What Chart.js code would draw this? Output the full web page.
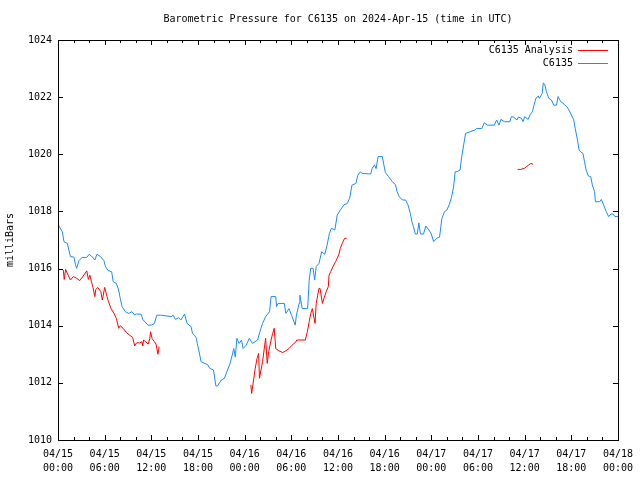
<!DOCTYPE html>
<html>
<head>
<meta charset="utf-8">
<script src="https://cdn.jsdelivr.net/npm/chart.js@4.4.1/dist/chart.umd.min.js"></script>
<style>
  body { margin: 0; background: #fff; }
</style>
</head>
<body>
<canvas id="chart" width="640" height="480"></canvas>
<script>
// hours since 2024-04-15 00:00 UTC
const hoursStation = [
  0.0, 0.55, 0.77, 1.2, 1.4, 1.6, 2.05, 2.26, 2.4, 2.7, 3.1, 3.7, 4.0, 4.3, 4.74, 5.0, 5.46, 5.9,
  6.1, 6.45, 6.9, 7.1, 7.5, 7.8, 8.0, 8.24, 8.67, 9.1, 9.5, 9.86, 10.1, 10.7, 10.9, 11.57, 12.0,
  12.4, 12.7, 13.2, 14.6, 14.8, 15.1, 15.5, 15.8, 16.27, 16.6, 17.1, 17.3, 17.55, 17.8, 17.9,
  18.1, 18.4, 19.26, 19.5, 20.0, 20.3, 20.5, 21.0, 21.4, 21.8, 22.1, 22.4, 22.6, 22.8, 23.0,
  23.3, 23.6, 23.8, 24.2, 24.6, 25.0, 25.66, 25.96, 26.3, 26.7, 27.2, 27.4, 28.0, 28.1, 28.3,
  29.1, 29.3, 29.7, 30.1, 30.5, 30.66, 31.0, 31.1, 31.4, 32.1, 32.3, 32.5, 32.8, 33.0, 33.2,
  33.56, 33.9, 34.3, 34.6, 34.9, 35.15, 35.6, 35.9, 36.3, 36.77, 37.2, 37.5, 37.8, 38.3, 38.56,
  38.9, 39.1, 40.2, 40.4, 40.7, 40.9, 41.16, 41.7, 41.9, 42.1, 42.5, 43.0, 43.4, 43.6, 43.9,
  44.3, 44.7, 45.0, 45.3, 45.5, 45.7, 45.95, 46.2, 46.4, 46.6, 47.0, 47.3, 47.7, 48.0, 48.3,
  48.7, 49.06, 49.36, 49.7, 50.0, 50.3, 50.6, 50.86, 51.07, 51.3, 51.7, 51.9, 52.27, 52.4, 53.0,
  53.6, 53.8, 54.5, 54.8, 55.25, 56.1, 56.4, 56.7, 56.96, 57.4, 58.1, 58.3, 58.6, 59.0, 59.2,
  59.6, 59.8, 60.0, 60.45, 60.7, 61.0, 61.2, 61.45, 61.75, 61.9, 62.26, 62.4, 62.6, 62.8, 63.1,
  63.45, 63.75, 64.1, 64.3, 64.65, 64.9, 65.16, 65.4, 65.7, 66.0, 66.3, 66.5, 66.8, 67.0, 67.2,
  67.5, 67.7, 67.9, 68.2, 68.5, 68.7, 69.0, 69.1, 69.65, 69.86, 70.16, 70.5, 70.8, 71.1, 71.4,
  71.6, 72.0
]
const pressureStation = [
  1017.55, 1017.29, 1016.94, 1016.88, 1016.65, 1016.42, 1016.40, 1016.13, 1016.01, 1016.28,
  1016.39, 1016.39, 1016.50, 1016.44, 1016.30, 1016.50, 1016.42, 1016.28, 1016.07, 1015.93,
  1015.89, 1015.54, 1015.48, 1015.25, 1014.96, 1014.67, 1014.49, 1014.43, 1014.49, 1014.38,
  1014.41, 1014.40, 1014.22, 1014.02, 1014.02, 1014.08, 1014.37, 1014.37, 1014.32, 1014.37,
  1014.22, 1014.28, 1014.20, 1014.41, 1014.08, 1013.97, 1013.73, 1013.67, 1013.56, 1013.38,
  1013.15, 1012.74, 1012.63, 1012.51, 1012.45, 1011.89, 1011.89, 1012.10, 1012.16, 1012.45,
  1012.66, 1012.97, 1013.20, 1012.90, 1013.56, 1013.38, 1013.50, 1013.20, 1013.32, 1013.56,
  1013.38, 1013.50, 1013.79, 1014.08, 1014.32, 1014.49, 1015.02, 1015.02, 1014.67, 1014.78,
  1014.78, 1014.43, 1014.60, 1014.32, 1014.02, 1014.37, 1014.78, 1015.07, 1014.60, 1014.60,
  1015.60, 1016.01, 1016.01, 1015.60, 1016.07, 1016.18, 1016.59, 1016.50, 1016.82, 1017.23,
  1017.41, 1017.35, 1017.87, 1018.05, 1018.23, 1018.28, 1018.46, 1018.92, 1018.98, 1019.27,
  1019.39, 1019.33, 1019.31, 1019.51, 1019.63, 1019.50, 1019.92, 1019.92, 1019.63, 1019.36,
  1019.22, 1019.04, 1018.93, 1018.69, 1018.51, 1018.40, 1018.40, 1018.23, 1017.93, 1017.64,
  1017.47, 1017.21, 1017.21, 1017.60, 1017.21, 1017.21, 1017.49, 1017.35, 1017.21, 1016.94,
  1017.06, 1017.10, 1017.75, 1018.00, 1018.05, 1018.23, 1018.50, 1018.85, 1019.39, 1019.39,
  1019.45, 1019.90, 1020.50, 1020.73, 1020.79, 1020.85, 1020.90, 1020.90, 1021.10, 1021.02,
  1021.02, 1021.20, 1021.02, 1021.22, 1021.14, 1021.14, 1021.32, 1021.30, 1021.20, 1021.30,
  1021.26, 1021.14, 1021.32, 1021.22, 1021.38, 1021.49, 1021.72, 1021.96, 1022.04, 1021.96,
  1022.13, 1022.50, 1022.43, 1022.19, 1021.96, 1021.90, 1021.72, 1021.72, 1022.02, 1021.84,
  1021.80, 1021.72, 1021.68, 1021.55, 1021.38, 1021.22, 1020.91, 1020.50, 1020.15, 1020.09,
  1020.03, 1019.74, 1019.45, 1019.24, 1019.22, 1018.93, 1018.69, 1018.34, 1018.34, 1018.42,
  1018.23, 1017.99, 1017.82, 1017.91, 1017.91, 1017.82, 1017.82
]
// analysis has gaps (null)
const hoursAnalysis = [
  0.68, 0.8, 0.98, 1.3, 1.6, 1.97, 2.4, 2.8, 3.24, 3.7, 3.9, 4.1, 4.3, 4.5, 4.74, 4.85, 5.1,
  5.5, 5.7, 6.0, 6.3, 6.5, 6.8, 7.2, 7.5, 7.8, 8.0, 8.37, 8.8, 9.2, 9.6, 9.86, 10.1, 10.5, 10.8,
  10.9, 11.0, 11.6, 11.8, 11.9, 12.1, 12.4, 12.6, 12.85, 13.0,
  18.0,
  24.8, 24.9, 25.15, 25.36, 25.6, 25.8, 25.9, 26.1, 26.3, 26.5, 26.7, 26.9, 27.1, 27.4, 27.6,
  27.8, 28.0, 28.4, 28.9, 29.3, 29.7, 30.1, 30.6, 30.7, 31.8, 32.06, 32.3, 32.5, 32.7, 33.05,
  33.2, 33.56, 33.7, 34.0, 34.2, 34.5, 34.76, 34.85, 35.06, 35.36, 35.7, 35.9, 36.1, 36.3,
  36.55, 36.85, 37.1,
  48.0,
  59.1, 59.5, 59.96, 60.25, 60.5, 60.8, 61.1
]
const pressureAnalysis = [
  1015.95, 1015.62, 1015.97, 1015.77, 1015.60, 1015.72, 1015.66, 1015.58, 1015.74, 1015.92,
  1015.62, 1015.77, 1015.54, 1015.34, 1015.02, 1015.26, 1015.34, 1015.20, 1014.90, 1015.34,
  1015.02, 1014.84, 1014.61, 1014.43, 1014.26, 1013.91, 1014.00, 1013.91, 1013.76, 1013.67,
  1013.59, 1013.29, 1013.40, 1013.40, 1013.44, 1013.29, 1013.50, 1013.36, 1013.55, 1013.79,
  1013.55, 1013.44, 1013.36, 1013.00, 1013.27,
  null,
  1011.93, 1011.63, 1012.10, 1012.51, 1012.86, 1013.03, 1012.16, 1012.45, 1012.74, 1013.15,
  1013.56, 1012.68, 1013.10, 1013.50, 1013.73, 1013.91, 1013.20, 1013.12, 1013.06, 1013.12,
  1013.20, 1013.32, 1013.44, 1013.50, 1013.50, 1013.79, 1014.14, 1014.43, 1014.60, 1014.08,
  1014.78, 1015.31, 1015.30, 1014.78, 1014.96, 1015.20, 1015.37, 1015.77, 1015.89, 1016.07,
  1016.24, 1016.36, 1016.48, 1016.71, 1016.88, 1017.06, 1017.06,
  null,
  1019.47, 1019.47, 1019.51, 1019.57, 1019.62, 1019.68, 1019.65
]
const xTickLabels = [
  ['04/15', '00:00'], ['04/15', '06:00'], ['04/15', '12:00'], ['04/15', '18:00'],
  ['04/16', '00:00'], ['04/16', '06:00'], ['04/16', '12:00'], ['04/16', '18:00'],
  ['04/17', '00:00'], ['04/17', '06:00'], ['04/17', '12:00'], ['04/17', '18:00'],
  ['04/18', '00:00']
]

const font = { family: 'DejaVu Sans Mono', size: 10 }
Chart.defaults.color = '#000'

const pairs = (xs, ys) => xs.map((x, i) => ({ x: x, y: ys[i] }))

// gnuplot style: frame with inward ticks, legend inside top right
const gnuplotFrame = {
  id: 'gnuplotFrame',
  afterDatasetsDraw(chart) {
    const { ctx, chartArea: a, scales } = chart
    ctx.save()
    ctx.strokeStyle = '#000'
    ctx.lineWidth = 1
    ctx.beginPath()
    scales.x.ticks.forEach(t => {
      const px = Math.round(scales.x.getPixelForValue(t.value)) + 0.5
      const len = t.value % 6 === 0 ? 5 : 3
      ctx.moveTo(px, a.bottom); ctx.lineTo(px, a.bottom - len)
      ctx.moveTo(px, a.top); ctx.lineTo(px, a.top + len)
    })
    scales.y.ticks.forEach(t => {
      const py = Math.round(scales.y.getPixelForValue(t.value)) + 0.5
      ctx.moveTo(a.left, py); ctx.lineTo(a.left + 5, py)
      ctx.moveTo(a.right, py); ctx.lineTo(a.right - 5, py)
    })
    ctx.stroke()
    ctx.strokeRect(Math.round(a.left) + 0.5, Math.round(a.top) + 0.5,
      Math.round(a.right - a.left), Math.round(a.bottom - a.top))

    ctx.font = '10px "DejaVu Sans Mono"'
    ctx.textAlign = 'right'
    ctx.textBaseline = 'middle'
    chart.data.datasets.forEach((ds, i) => {
      const y = Math.round(a.top + 10 + i * 13) + 0.5
      ctx.fillStyle = '#000'
      ctx.fillText(ds.label, a.right - 45, y)
      ctx.strokeStyle = ds.borderColor
      ctx.beginPath()
      ctx.moveTo(a.right - 40, y); ctx.lineTo(a.right - 10, y)
      ctx.stroke()
    })
    ctx.restore()
  }
}

new Chart(document.getElementById('chart'), {
  type: 'line',
  data: {
    datasets: [{
      label: 'C6135 Analysis',
      data: pairs(hoursAnalysis, pressureAnalysis),
      borderColor: '#ff0000',
      borderWidth: 1,
      pointRadius: 0,
      spanGaps: false
    }, {
      label: 'C6135',
      data: pairs(hoursStation, pressureStation),
      borderColor: '#1a8cff',
      borderWidth: 1,
      pointRadius: 0
    }]
  },
  options: {
    responsive: false,
    animation: false,
    devicePixelRatio: 1,
    layout: { padding: { right: 20 } },
    plugins: {
      legend: { display: false },
      tooltip: { enabled: false }
    },
    scales: {
      x: {
        type: 'linear',
        min: 0,
        max: 72,
        grid: { display: false, drawTicks: false },
        border: { display: false },
        afterFit: s => { s.height = 40 },
        ticks: {
          stepSize: 2,
          autoSkip: false,
          maxRotation: 0,
          padding: 7,
          font: { family: 'DejaVu Sans Mono', size: 10, lineHeight: 1.4 },
          callback: v => (v % 6 === 0 ? xTickLabels[v / 6] : '')
        }
      },
      x2: {
        type: 'linear',
        position: 'top',
        min: 0,
        max: 72,
        grid: { display: false, drawTicks: false },
        border: { display: false },
        ticks: { display: false },
        afterFit: s => { s.height = 40 },
        title: {
          display: true,
          text: 'Barometric Pressure for C6135 on 2024-Apr-15 (time in UTC)',
          font: font,
          padding: { top: 13, bottom: 0 }
        }
      },
      y: {
        min: 1010,
        max: 1024,
        grid: { display: false, drawTicks: false },
        border: { display: false },
        afterFit: s => { s.width = 58 },
        ticks: { stepSize: 2, padding: 6, font: font, callback: v => String(v) },
        title: {
          display: true,
          text: 'milliBars',
          font: font,
          padding: { top: 4, bottom: 0 }
        }
      }
    }
  },
  plugins: [gnuplotFrame]
})
</script>
</body>
</html>
